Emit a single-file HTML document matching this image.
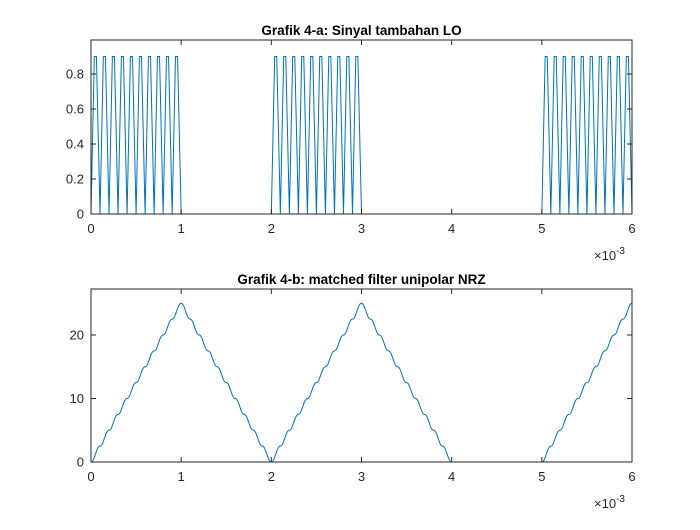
<!DOCTYPE html>
<html><head><meta charset="utf-8"><style>
body{margin:0;background:#fff}
svg{font-family:"Liberation Sans",sans-serif}
</style></head><body>
<svg id="chart" width="700" height="525">
<rect x="0" y="0" width="700" height="525" fill="#fff"/>
</svg>
<script>
const bits=[1,0,1,0,0,1];
const bitPeriod=1e-3;
const cyclesPerBit=10;
const cyclePhase=[0,0.37,0.6,1];
const cycleLevel=[0,0.9,0.9,0];
const topTicks=[0,0.2,0.4,0.6,0.8];
const botTicks=[0,10,20];
const xTicks=[0,1,2,3,4,5,6];
const titles=["Grafik 4-a: Sinyal tambahan LO","Grafik 4-b: matched filter unipolar NRZ"];
const peakValue=25;

const NS="http://www.w3.org/2000/svg";
const svg=document.getElementById('chart');
function el(t,a,p){const e=document.createElementNS(NS,t);for(const k in a)e.setAttribute(k,a[k]);(p||svg).appendChild(e);return e;}
const X0=91,X1=632;
const xs=t=>X0+(t/6e-3)*(X1-X0);
const yTop=v=>214-v*175;
const yBot=v=>462-v*6.35;

// signal value
function sig(t){
  const b=Math.floor(t/bitPeriod);
  if(b<0||b>=bits.length||!bits[b])return 0;
  const cp=bitPeriod/cyclesPerBit;
  let ph=(t%cp)/cp;
  for(let i=1;i<cyclePhase.length;i++){
    if(ph<=cyclePhase[i]){const f=(ph-cyclePhase[i-1])/(cyclePhase[i]-cyclePhase[i-1]);return cycleLevel[i-1]+f*(cycleLevel[i]-cycleLevel[i-1]);}
  }
  return 0;
}
// top series path
let pts=[];
const total=bits.length*bitPeriod, cp=bitPeriod/cyclesPerBit;
for(let b=0;b<bits.length;b++){
  for(let c=0;c<cyclesPerBit;c++){
    for(let i=0;i<cyclePhase.length;i++){
      const t=b*bitPeriod+c*cp+cyclePhase[i]*cp;
      pts.push([t,bits[b]?cycleLevel[i]:0]);
    }
  }
}
// bottom: running integral over one bit
const N=3000,dt=total/N;
const s=[];for(let i=0;i<=N;i++)s.push(sig(i*dt));
const cum=[0];for(let i=1;i<=N;i++)cum.push(cum[i-1]+(s[i]+s[i-1])/2*dt);
const w=Math.round(bitPeriod/dt);
const full=cum[w];
const mf=[];for(let i=0;i<=N;i++){const v=cum[i]-(i>=w?cum[i-w]:0);mf.push(v/full*peakValue);}

function axes(top,bot,ticks,yf,fmt,title,name){
  const g=el('g',{});
  el('text',{x:(X0+X1)/2,y:top-5,'text-anchor':'middle','font-size':'13.5','font-weight':'bold',fill:'#000',},g).textContent=title;
  return g;
}
function frame(g,top,bot,ticks,yf,fmt,name){
  el('rect',{x:X0,y:top,width:X1-X0,height:bot-top,fill:'none',stroke:'#262626','stroke-width':1,},g);
  xTicks.forEach(v=>{const x=xs(v*1e-3);
    el('line',{x1:x,x2:x,y1:bot,y2:bot-5,stroke:'#262626'},g);
    el('line',{x1:x,x2:x,y1:top,y2:top+5,stroke:'#262626'},g);
    const t=el('text',{x:x,y:bot+19,'text-anchor':'middle','font-size':'13',fill:'#262626',},g);t.textContent=v;});
  ticks.forEach(v=>{const y=yf(v);
    el('line',{x1:X0,x2:X0+5,y1:y,y2:y,stroke:'#262626'},g);
    el('line',{x1:X1,x2:X1-5,y1:y,y2:y,stroke:'#262626'},g);
    const t=el('text',{x:X0-7,y:y+4.5,'text-anchor':'end','font-size':'13',fill:'#262626',},g);t.textContent=fmt(v);});
  const e=el('text',{x:594,y:bot+46,'font-size':'13',fill:'#262626',},g);
  e.innerHTML='×10<tspan dy="-6" font-size="10">-3</tspan>';
}
const g1=axes(40,214,topTicks,yTop,null,titles[0],'top-axes');
el('path',{d:pts.map((p,i)=>(i?'L':'M')+xs(p[0]).toFixed(2)+','+yTop(p[1]).toFixed(2)).join(''),fill:'none',stroke:'#0072bd','stroke-width':1,},g1);
frame(g1,40,214,topTicks,yTop,v=>v===0?'0':v.toFixed(1),'top-axes');
const g2=axes(289,462,botTicks,yBot,null,titles[1],'bottom-axes');
el('path',{d:mf.map((v,i)=>(i?'L':'M')+xs(i*dt).toFixed(2)+','+yBot(v).toFixed(2)).join(''),fill:'none',stroke:'#0072bd','stroke-width':1,},g2);
frame(g2,289,462,botTicks,yBot,v=>String(v),'bottom-axes');
</script>
</body></html>
